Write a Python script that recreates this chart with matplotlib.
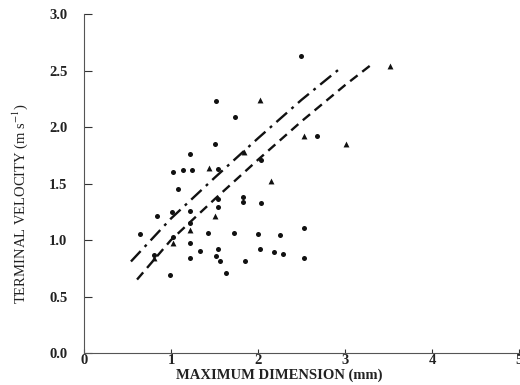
import matplotlib
matplotlib.use("Agg")
import matplotlib.pyplot as plt

# Dots (aggregates)
dot_x = [2.50, 1.52, 1.74, 1.51, 2.03, 1.54, 1.22, 1.02, 1.14, 1.24, 1.08, 2.68,
         0.84, 1.01, 1.22, 1.22, 0.64, 1.02, 1.22, 1.33, 0.80, 1.22, 0.99, 1.43,
         1.54, 1.54, 1.83, 1.83, 2.04, 1.72, 2.00, 2.25, 2.53, 1.54, 1.52, 1.56,
         1.63, 1.85, 2.02, 2.18, 2.29, 2.53]
dot_y = [2.63, 2.23, 2.09, 1.85, 1.71, 1.63, 1.76, 1.60, 1.62, 1.62, 1.45, 1.92,
         1.21, 1.25, 1.26, 1.15, 1.05, 1.03, 0.97, 0.90, 0.87, 0.84, 0.69, 1.06,
         1.36, 1.29, 1.38, 1.34, 1.33, 1.06, 1.05, 1.04, 1.11, 0.92, 0.86, 0.81,
         0.71, 0.81, 0.92, 0.89, 0.88, 0.84]

# Triangles
tri_x = [2.02, 3.52, 2.53, 3.01, 2.15, 1.84, 1.44, 1.51, 1.22, 1.02, 0.80]
tri_y = [2.24, 2.54, 1.92, 1.85, 1.52, 1.78, 1.64, 1.21, 1.09, 0.97, 0.84]

# Fitted curves
dashdot_x = [0.54, 1.0, 1.5, 2.0, 2.5, 2.93]
dashdot_y = [0.81, 1.19, 1.55, 1.90, 2.24, 2.51]
dashed_x = [0.61, 1.0, 1.5, 2.0, 2.5, 3.0, 3.30]
dashed_y = [0.65, 1.00, 1.36, 1.71, 2.05, 2.37, 2.55]

xticks = [0, 1, 2, 3, 4, 5]
yticks = [0.0, 0.5, 1.0, 1.5, 2.0, 2.5, 3.0]

plt.rcParams['font.family'] = ['Liberation Serif', 'DejaVu Serif']
plt.rcParams['mathtext.fontset'] = 'stix'

fig = plt.figure(figsize=(5.2, 3.85), dpi=100)
ax = fig.add_axes([0.1615, 0.0831, 0.8365, 0.8805])

ax.plot(dashdot_x, dashdot_y, color='#111111', lw=1.7,
        dashes=(6, 2.5, 1.2, 2.5))
ax.plot(dashed_x, dashed_y, color='#111111', lw=1.7, dashes=(4, 2.5))
ax.scatter(dot_x, dot_y, marker='o', s=13, color='#111111', linewidths=0)
ax.scatter(tri_x, tri_y, marker='^', s=18, color='#111111', linewidths=0)

ax.set_xlim(0, 5)
ax.set_ylim(0, 3)
ax.set_xticks(xticks)
ax.set_xticklabels([str(t) for t in xticks])
ax.set_yticks(yticks)
ax.set_yticklabels([f"{t:.1f}" for t in yticks])
ax.tick_params(direction='in', length=6, width=0.8, colors='#333333',
               labelsize=10.5, labelcolor='#222222')
ax.tick_params(axis='x', length=3, pad=1)
ax.tick_params(axis='y', pad=12)
for lab in ax.get_xticklabels() + ax.get_yticklabels():
    lab.set_fontweight('bold')
for s in ['top', 'right']:
    ax.spines[s].set_visible(False)
for s in ['left', 'bottom']:
    ax.spines[s].set_color('#555555')
    ax.spines[s].set_linewidth(0.8)

ax.set_xlabel('MAXIMUM DIMENSION (mm)', fontsize=10.5, color='#222222',
              fontweight='bold')
ax.xaxis.set_label_coords(0.45, -0.045)
ax.set_ylabel('TERMINAL VELOCITY (m s$^{-1}$)', fontsize=10.5, color='#222222')
ax.yaxis.set_label_coords(-0.125, 0.44)

fig.savefig('out.png', dpi=100)
